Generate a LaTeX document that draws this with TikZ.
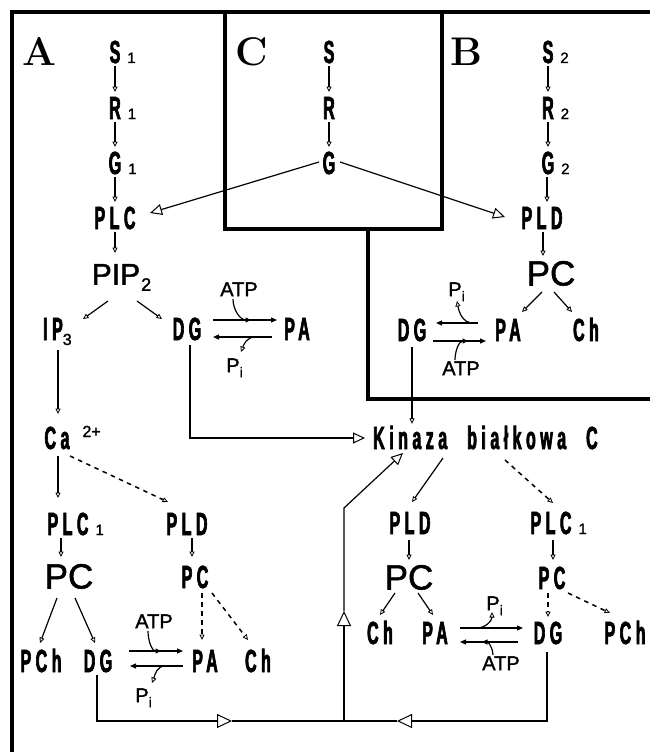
\documentclass[tikz,border=0pt]{standalone}
\usepackage{fontspec}
\usetikzlibrary{arrows.meta,calc}
\newfontfamily\cndf{Liberation Sans Bold}[FakeStretch=0.5,LetterSpace=14,FakeBold=2]
\newfontfamily\rsm{Liberation Sans}[FakeBold=1.5]
\newcommand\sbb[1]{\rlap{\kern7pt{\rsm\fontsize{15}{15}\selectfont #1}}}
\newcommand\pii{\rlap{\raisebox{-5pt}{\rsm\fontsize{14}{14}\selectfont i}}}
\tikzset{
  lbl/.style={font=\cndf\fontsize{32}{32}\selectfont, text height=22pt, text depth=0pt, inner sep=2pt},
  bigt/.style={font=\rsm\fontsize{35}{35}\selectfont, text height=25pt, text depth=0pt, inner sep=2pt},
  pipt/.style={font=\rsm\fontsize{30}{30}\selectfont, text height=21.5pt, text depth=0pt, inner sep=2pt},
  sml/.style={font=\rsm\fontsize{20}{20}\selectfont, text height=14.3pt, text depth=0pt, inner sep=1pt},
  panel/.style={font=\rmfamily\bfseries\fontsize{40}{40}\selectfont, inner sep=0pt},
  con/.style={line width=1.2pt},
  sm/.style={con, -{Triangle[open, length=5.5pt, width=5pt, line width=0.8pt]}},
  bigo/.style={con, -{Triangle[open, length=12pt, width=11pt, line width=1pt]}},
  mido/.style={con, -{Triangle[open, length=15pt, width=14pt, line width=1pt]}},
  eq/.style={con, -{Triangle[length=6pt, width=5pt]}},
  dsh/.style={sm, dash pattern=on 4.5pt off 4.5pt, line width=1.5pt},
  frame/.style={line width=3.5pt}
}
\begin{document}
\begin{tikzpicture}[x=1pt,y=-1pt]
\useasboundingbox (0,0) rectangle (650,752);
\clip (0,0) rectangle (650,752);
\fill[white] (0,0) rectangle (650,752);
% frames
\draw[frame] (12,770) -- (12,12) -- (670,12);
\draw[frame] (225,12) -- (225,229) -- (442,229) -- (442,12);
\draw[frame] (368,229) -- (368,399) -- (670,399);
% panel letters
\node[panel] (pA) at (40,52) {A};
\node[panel] (pC) at (252,52) {C};
\node[panel] (pB) at (466,52) {B};
% C column
\node[lbl] (S) at (329,52) {S};
\node[lbl] (R) at (329,108) {R};
\node[lbl] (G) at (329,163) {G};
% A column
\node[lbl] (S1) at (115,52) {S\sbb{1}};
\node[lbl] (R1) at (115,108) {R\sbb{1}};
\node[lbl] (G1) at (115,163) {G\sbb{1}};
\node[lbl] (PLC) at (115,218) {PLC};
% B column
\node[lbl] (S2) at (548,52) {S\sbb{2}};
\node[lbl] (R2) at (548,108) {R\sbb{2}};
\node[lbl] (G2) at (548,163) {G\sbb{2}};
\node[lbl] (PLD) at (542,218) {PLD};
% A middle
\node[pipt] (PIP) at (116,274) {PIP\rlap{\kern1pt\raisebox{-6pt}{\fontsize{18}{18}\selectfont 2}}};
\node[lbl] (IP3) at (53,329) {IP\rlap{\raisebox{-5pt}{\rsm\fontsize{16}{16}\selectfont 3}}};
\node[lbl] (DGa) at (187,329) {DG};
\node[lbl] (PAa) at (297,329) {PA};
\node[sml] (ATPa) at (239,289) {ATP};
\node[sml] (Pia) at (233,365) {P\pii};
\node[lbl] (Ca) at (57,438) {Ca\rlap{\kern13pt\raisebox{12pt}{\rsm\fontsize{16}{16}\selectfont 2+}}};
\node[lbl, anchor=west] (Kin) at (371,438) {Kinaza\hspace{20pt}białkowa\hspace{20pt}C};
% B middle
\node[bigt] (PCb) at (551,273) {PC};
\node[lbl] (PAb) at (508,330) {PA};
\node[lbl] (Chb) at (586,330) {Ch};
\node[lbl] (DGb) at (412,330) {DG};
\node[sml] (Pib) at (455,289) {P\pii};
\node[sml] (ATPb) at (461,368) {ATP};
% A bottom
\node[lbl] (PLC1a) at (68,524) {PLC\sbb{1}};
\node[lbl] (PLDa) at (187,524) {PLD};
\node[bigt] (PCa) at (69,576) {PC};
\node[lbl] (PCsa) at (195,577) {PC};
\node[lbl] (PCha) at (41,661) {PCh};
\node[lbl] (DGc) at (98,661) {DG};
\node[lbl] (PAc) at (205,661) {PA};
\node[lbl] (Chc) at (258,661) {Ch};
\node[sml] (ATPc) at (154,621) {ATP};
\node[sml] (Pic) at (142,695) {P\pii};
% right bottom
\node[lbl] (PLDr) at (410,523) {PLD};
\node[lbl] (PLC1r) at (551,523) {PLC\sbb{1}};
\node[bigt] (PCr) at (409,577) {PC};
\node[lbl] (PCsr) at (552,578) {PC};
\node[lbl] (Chr) at (380,633) {Ch};
\node[lbl] (PAr) at (435,633) {PA};
\node[lbl] (DGr) at (548,633) {DG};
\node[lbl] (PChr) at (625,633) {PCh};
\node[sml] (Pir) at (493,603) {P\pii};
\node[sml] (ATPr) at (501,663) {ATP};
% ---- connectors top
\foreach \a/\b in {S/R,R/G,S1/R1,R1/G1,G1/PLC,S2/R2,R2/G2}
  \draw[sm] ($(\a)+(0,14)$) -- ($(\b)+(0,-16)$);
\draw[sm] ($(G2)+(-1,14)$) -- ($(PLD)+(5,-16)$);
\draw[sm] ($(PLC)+(0,14)$) -- ($(PIP)+(-1,-21)$);
\draw[sm] ($(PLD)+(1,14)$) -- ($(PCb)+(-8,-17)$);
\draw[bigo] ($(G)+(-10,-1)$) -- ($(PLC)+(35,-5)$);
\draw[bigo] ($(G)+(11,-1)$) -- ($(PLD)+(-37,-1)$);
% A middle
\draw[sm] ($(PIP)+(-8,27)$) -- ($(IP3)+(30,-10)$);
\draw[sm] ($(PIP)+(21,27)$) -- ($(DGa)+(-25,-10)$);
\draw[eq] ($(DGa)+(26,-9)$) -- ($(PAa)+(-20,-9)$);
\draw[eq] ($(PAa)+(-25,8)$) -- ($(DGa)+(26,8)$);
\draw[sm] ($(ATPa)+(-6,10)$) to[out=-90,in=180] ($(DGa)+(64,-9)$);
\draw[sm] ($(DGa)+(68,8)$) to[out=180,in=70] ($(Pia)+(8,-13)$);
\draw[sm] ($(IP3)+(5,21)$) -- ($(Ca)+(1,-24)$);
\draw[bigo] ($(DGa)+(3,16)$) |- ($(Kin.west)+(-6,0)$);
\draw[sm] ($(DGb)+(0,17)$) -- ($(DGb|-Kin.north)+(0,-1)$);
% B middle
\draw[sm] ($(PCb)+(-9,19)$) -- ($(PAb)+(14,-18)$);
\draw[sm] ($(PCb)+(3,19)$) -- ($(Chb)+(-14,-18)$);
\draw[eq] ($(PAb)+(-30,-7)$) -- ($(DGb)+(24,-7)$);
\draw[eq] ($(DGb)+(21,11)$) -- ($(PAb)+(-22,11)$);
\draw[sm] ($(PAb)+(-35,-7)$) to[out=180,in=-80] ($(Pib)+(2,12)$);
\draw[sm] ($(ATPb)+(-6,-8)$) to[out=90,in=180] ($(DGb)+(56,11)$);
% A bottom
\draw[sm] ($(Ca)+(1,18)$) -- ($(PLC1a)+(-10,-26)$);
\draw[dsh] ($(Ca)+(13,18)$) -- ($(PLDa)+(-19,-22)$);
\draw[sm] ($(PLC1a)+(-7,14)$) -- ($(PCa)+(-8,-19)$);
\draw[sm] ($(PLDa)+(5,14)$) -- ($(PCsa)+(-3,-20)$);
\draw[sm] ($(PCa)+(-12,22)$) -- ($(PCha)+(-1,-18)$);
\draw[sm] ($(PCa)+(6,22)$) -- ($(DGc)+(-3,-18)$);
\draw[dsh] ($(PCsa)+(7,16)$) -- ($(PAc)+(-3,-21)$);
\draw[dsh] ($(PCsa)+(17,16)$) -- ($(Chc)+(-10,-21)$);
\draw[eq] ($(DGc)+(31,-10)$) -- ($(PAc)+(-22,-10)$);
\draw[eq] ($(PAc)+(-22,5)$) -- ($(DGc)+(32,5)$);
\draw[sm] ($(ATPc)+(-6,10)$) to[out=-90,in=180] ($(DGc)+(63,-10)$);
\draw[sm] ($(PAc)+(-40,5)$) to[out=180,in=70] ($(Pic)+(10,-12)$);
% right bottom
\draw[sm] ($(Kin.west)+(72,20)$) -- ($(PLDr)+(2,-21)$);
\draw[dsh] ($(Kin.west)+(134,22)$) -- ($(PLC1r)+(2,-20)$);
\draw[sm] ($(PLDr)+(-1,17)$) -- ($(PCr)+(0,-17)$);
\draw[sm] ($(PLC1r)+(2,17)$) -- ($(PCsr)+(1,-18)$);
\draw[sm] ($(PCr)+(-14,16)$) -- ($(Chr)+(0,-18)$);
\draw[sm] ($(PCr)+(9,16)$) -- ($(PAr)+(-2,-18)$);
\draw[dsh] ($(PCsr)+(-4,15)$) -- ($(DGr)+(0,-16)$);
\draw[dsh] ($(PCsr)+(16,15)$) -- ($(PChr)+(-15,-20)$);
\draw[eq] ($(PAr)+(25,-5)$) -- ($(DGr)+(-25,-5)$);
\draw[eq] ($(DGr)+(-30,9)$) -- ($(PAr)+(25,9)$);
\draw[sm] ($(PAr)+(42,-5)$) to[out=0,in=-90] ($(Pir)+(-1,9)$);
\draw[sm] ($(ATPr)+(-8,-8)$) to[out=90,in=0] ($(PAr)+(47,9)$);
% bottom loop
\coordinate (m1) at (232,721);
\coordinate (jn) at (344,721);
\coordinate (m2) at (397,721);
\coordinate (m3) at (344,611);
\coordinate (bend) at (344,508);
\draw[mido] ($(DGc)+(-1,14)$) |- (m1);
\draw[con] (m1) -- (jn);
\draw[mido] ($(DGr)+(-1,19)$) |- (m2);
\draw[con] (m2) -- (jn);
\draw[mido] (jn) -- (m3);
\draw[bigo] (m3) -- (bend) -- ($(Kin.west)+(32,15)$);
\end{tikzpicture}
\end{document}
